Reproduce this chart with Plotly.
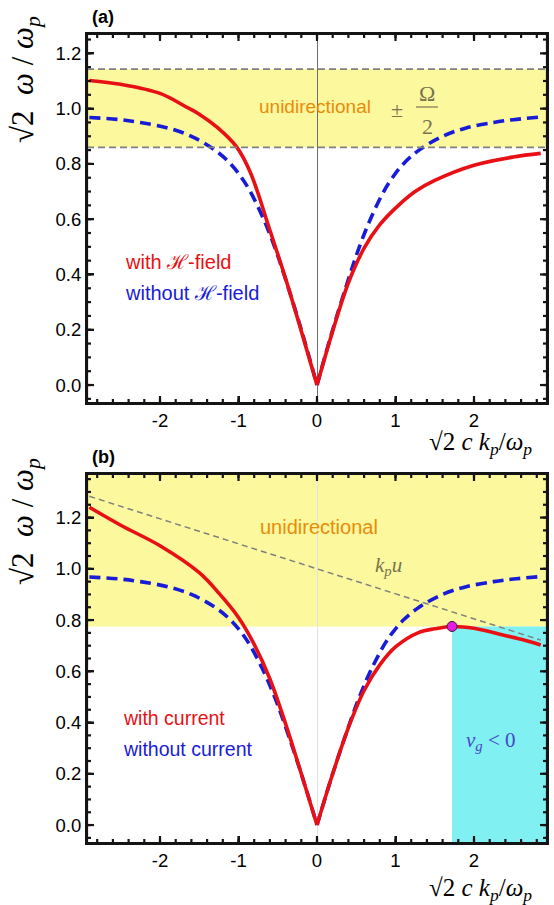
import plotly.graph_objects as go

# ---------------- data ----------------
# blue dashed curves (identical in both panels), left and right branches
blue_x_left = [-2.9, -2.5, -2.25, -1.9, -1.6, -1.3, -1.1, -0.96, -0.85, -0.68, -0.54, -0.42, -0.2, 0.0]
blue_y_left = [0.968, 0.960, 0.950, 0.930, 0.900, 0.850, 0.800, 0.750, 0.700, 0.600, 0.500, 0.400, 0.200, 0.0]
blue_x_right = [0.0, 0.2, 0.42, 0.54, 0.68, 0.85, 0.96, 1.1, 1.3, 1.6, 1.9, 2.25, 2.5, 2.82]
blue_y_right = [0.0, 0.200, 0.400, 0.500, 0.600, 0.700, 0.750, 0.800, 0.850, 0.900, 0.930, 0.950, 0.960, 0.969]

# panel (a) red: with H-field
red_a_x_left = [-2.9, -2.5, -2.0, -1.66, -1.5, -1.27, -1.02, -0.85, -0.6, -0.4, -0.2, 0.0]
red_a_y_left = [1.102, 1.088, 1.055, 1.005, 0.980, 0.932, 0.860, 0.770, 0.560, 0.385, 0.195, 0.0]
red_a_x_right = [0.0, 0.2, 0.4, 0.6, 0.8, 1.0, 1.25, 1.5, 2.0, 2.5, 2.85]
red_a_y_right = [0.0, 0.195, 0.370, 0.495, 0.580, 0.640, 0.700, 0.740, 0.795, 0.825, 0.838]

# panel (a) unidirectional band limits (1 -/+ Omega/2)
band_a = [0.86, 1.143]

# panel (b) red: with current
red_b_x_left = [-2.9, -2.5, -2.0, -1.5, -1.25, -1.0, -0.8, -0.6, -0.4, -0.2, 0.0]
red_b_y_left = [1.240, 1.170, 1.090, 0.985, 0.905, 0.810, 0.705, 0.570, 0.395, 0.200, 0.0]
red_b_x_right = [0.0, 0.2, 0.4, 0.6, 0.8, 1.0, 1.3, 1.5, 1.72, 2.0, 2.37, 2.6, 2.85]
red_b_y_right = [0.0, 0.200, 0.380, 0.525, 0.625, 0.695, 0.752, 0.766, 0.775, 0.768, 0.742, 0.725, 0.703]

# k_p u line (panel b)
kpu_x = [-2.9, 2.85]
kpu_y = [1.283, 0.722]

# maximum of red curve (panel b): start of v_g < 0 region
max_point_x = [1.72]
max_point_y = [0.775]

x_ticks = [-2, -1, 0, 1, 2]
x_tick_text = ["-2", "-1", "0", "1", "2"]
y_ticks = [0.0, 0.2, 0.4, 0.6, 0.8, 1.0, 1.2]
y_tick_text = ["0.0", "0.2", "0.4", "0.6", "0.8", "1.0", "1.2"]

# ---------------- styling ----------------
W, H = 554, 905
RED = "rgb(232,16,20)"
BLUE = "rgb(24,28,215)"
YELLOW = "rgb(252,248,158)"
CYAN = "rgb(128,240,242)"
GREY = "rgb(128,128,128)"
ORANGE = "rgb(232,140,10)"
OLIVE = "rgb(120,116,80)"
INK = "rgb(0,0,0)"
FRAME = "rgb(20,20,20)"
TICKFONT = dict(family="Liberation Sans, Arial", size=18.5, color=INK)
XR = [-2.93, 2.93]
YRA = [-0.065, 1.27]
YRB = [-0.07, 1.37]
LEFT, RIGHT = 87, 547          # plot frame, px
TOP_A, BOT_A = 34, 403
TOP_B, BOT_B = 474, 843
PW, PH = RIGHT - LEFT, BOT_A - TOP_A

x_minor = [round(-2.8 + 0.2 * i, 2) for i in range(29)]
y_minor = [round(-0.05 + 0.05 * i, 2) for i in range(29)]


def px(x, y):
    return x / W, 1 - y / H


fig = go.Figure()

# curves
for xa, ya in (("x", "y"), ("x2", "y2")):
    for bx, byv in ((blue_x_left, blue_y_left), (blue_x_right, blue_y_right)):
        fig.add_trace(go.Scatter(x=bx, y=byv, xaxis=xa, yaxis=ya, mode="lines",
                                 line=dict(color=BLUE, width=3.6, dash="11px,6px", shape="spline", smoothing=1.0),
                                 showlegend=False, hoverinfo="skip"))

fig.add_trace(go.Scatter(x=kpu_x, y=kpu_y, xaxis="x2", yaxis="y2", mode="lines",
                         line=dict(color=GREY, width=1.5, dash="6px,4px"), showlegend=False))

for rx, ry, xa, ya in ((red_a_x_left, red_a_y_left, "x", "y"), (red_a_x_right, red_a_y_right, "x", "y"),
                       (red_b_x_left, red_b_y_left, "x2", "y2"), (red_b_x_right, red_b_y_right, "x2", "y2")):
    fig.add_trace(go.Scatter(x=rx, y=ry, xaxis=xa, yaxis=ya, mode="lines",
                             line=dict(color=RED, width=3.6, shape="spline", smoothing=1.0),
                             showlegend=False, hoverinfo="skip"))

fig.add_trace(go.Scatter(x=max_point_x, y=max_point_y, xaxis="x2", yaxis="y2", mode="markers",
                         marker=dict(color="rgb(226,30,226)", size=10, line=dict(color="rgb(60,20,60)", width=1)),
                         showlegend=False))

# frame and inside ticks drawn as line traces (axis decoration, computed from axis ranges)
for xa, ya, yrng in (("x", "y", YRA), ("x2", "y2", YRB)):
    ux = (XR[1] - XR[0]) / PW      # data units per px
    uy = (yrng[1] - yrng[0]) / PH
    fx, fy = [], []
    fx += [XR[0], XR[1], XR[1], XR[0], XR[0], None]
    fy += [yrng[0], yrng[0], yrng[1], yrng[1], yrng[0], None]
    for vals, ln in ((x_ticks, 7), (x_minor, 4)):
        for v in vals:
            fx += [v, v, None, v, v, None]
            fy += [yrng[0], yrng[0] + ln * uy, None, yrng[1], yrng[1] - ln * uy, None]
    for vals, ln in ((y_ticks, 7), (y_minor, 4)):
        for v in vals:
            if v < yrng[0] or v > yrng[1]:
                continue
            fx += [XR[0], XR[0] + ln * ux, None, XR[1], XR[1] - ln * ux, None]
            fy += [v, v, None, v, v, None]
    fig.add_trace(go.Scatter(x=fx, y=fy, xaxis=xa, yaxis=ya, mode="lines", connectgaps=False,
                             line=dict(color=FRAME, width=2.2), cliponaxis=False,
                             showlegend=False, hoverinfo="skip"))

shapes = []
# panel a yellow band + dashed limits
shapes.append(dict(type="rect", xref="x", yref="y", x0=XR[0], x1=XR[1], y0=band_a[0], y1=band_a[1],
                   fillcolor=YELLOW, line=dict(width=0), layer="below"))
for yv in band_a:
    shapes.append(dict(type="line", xref="x", yref="y", x0=XR[0], x1=XR[1], y0=yv, y1=yv,
                       line=dict(color=GREY, width=1.8, dash="7px,4px"), layer="above"))
# panel b yellow above maximum, cyan for v_g < 0
shapes.append(dict(type="rect", xref="x2", yref="y2", x0=XR[0], x1=XR[1], y0=max_point_y[0], y1=YRB[1],
                   fillcolor=YELLOW, line=dict(width=0), layer="below"))
shapes.append(dict(type="rect", xref="x2", yref="y2", x0=max_point_x[0], x1=XR[1], y0=YRB[0], y1=max_point_y[0],
                   fillcolor=CYAN, line=dict(width=0), layer="below"))


def pline(x0, y0, x1, y1, w):
    a0, b0 = px(x0, y0)
    a1, b1 = px(x1, y1)
    shapes.append(dict(type="line", xref="paper", yref="paper", x0=a0, y0=b0, x1=a1, y1=b1,
                       line=dict(color=FRAME, width=w)))


# frame edges also as paper shapes
for top, bot in ((TOP_A, BOT_A), (TOP_B, BOT_B)):
    pline(LEFT, top, RIGHT, top, 2)
    pline(LEFT, bot, RIGHT, bot, 2)
    pline(LEFT, top, LEFT, bot, 2)
    pline(RIGHT, top, RIGHT, bot, 2)

annotations = []


def txt(x, y, text, size, color, family="Liberation Sans, Arial", xanchor="left", yanchor="middle", angle=0):
    xx, yy = px(x, y)
    annotations.append(dict(x=xx, y=yy, xref="paper", yref="paper", text=text, showarrow=False,
                            xanchor=xanchor, yanchor=yanchor, textangle=angle,
                            font=dict(family=family, size=size, color=color)))


def dtxt(x, y, xr, yr, text, size, color, family="Liberation Sans, Arial", xanchor="left"):
    annotations.append(dict(x=x, y=y, xref=xr, yref=yr, text=text, showarrow=False,
                            xanchor=xanchor, yanchor="middle",
                            font=dict(family=family, size=size, color=color)))


SERIF = "Liberation Serif, Times New Roman, serif"
YT = "√2  <i>ω</i> / <i>ω</i><sub><i>p</i></sub>"
XT = "√2 <i>c k</i><sub><i>p</i></sub>/<i>ω</i><sub><i>p</i></sub>"
# panel labels
txt(90, 17, "<b>(a)</b>", 18, INK)
txt(90, 457, "<b>(b)</b>", 18, INK)
# y titles
txt(25, 80, YT, 31, INK, SERIF, "center", "middle", -90)
txt(25, 522, YT, 31, INK, SERIF, "center", "middle", -90)
# x titles
txt(480, 444, XT, 25, INK, SERIF, "center", "middle")
txt(480, 889, XT, 25, INK, SERIF, "center", "middle")
# panel a texts
txt(257, 107, "unidirectional", 19, ORANGE)
txt(397, 109, "±", 22, OLIVE, SERIF, "center")
txt(427, 93, "Ω", 22, OLIVE, SERIF, "center")
txt(427, 126, "2", 22, OLIVE, SERIF, "center")
x0p, y0p = px(416, 107)
x1p, _ = px(438, 107)
shapes.append(dict(type="line", xref="paper", yref="paper", x0=x0p, x1=x1p, y0=y0p, y1=y0p,
                   line=dict(color=OLIVE, width=1.2)))
txt(123, 262, "with ℋ-field", 20, RED)
txt(123, 293, "without ℋ-field", 20, BLUE)
# panel b texts (data coordinates)
dtxt(-0.75, 1.165, "x2", "y2", "unidirectional", 20, ORANGE)
dtxt(0.71, 1.01, "x2", "y2", "<i>k</i><sub><i>p</i></sub><i>u</i>", 21, OLIVE, SERIF)
dtxt(2.22, 0.33, "x2", "y2", "<i>v</i><sub><i>g</i></sub> &lt; 0", 21, "rgb(70,70,200)", SERIF, "center")
txt(121, 718, "with current", 19.5, RED)
txt(121, 749, "without current", 19.5, BLUE)

axis_common = dict(showline=True, linecolor=FRAME, linewidth=2, mirror=True,
                   ticks="inside", ticklen=7, tickcolor=FRAME, tickwidth=1.5,
                   showgrid=False, tickfont=TICKFONT)
xaxis_common = dict(axis_common, range=XR, tickmode="array", tickvals=x_ticks, ticktext=x_tick_text,
                    domain=[LEFT / W, RIGHT / W])
yaxis_common = dict(axis_common, tickmode="array", tickvals=y_ticks, ticktext=y_tick_text)

fig.update_layout(
    width=W, height=H, margin=dict(l=0, r=0, t=0, b=0),
    paper_bgcolor="white", plot_bgcolor="white",
    xaxis=dict(xaxis_common, anchor="y", zeroline=True, zerolinecolor="rgb(110,110,110)", zerolinewidth=1.2),
    yaxis=dict(yaxis_common, anchor="x", range=YRA, zeroline=False, domain=[1 - BOT_A / H, 1 - TOP_A / H]),
    xaxis2=dict(xaxis_common, anchor="y2", zeroline=True, zerolinecolor="rgb(225,225,225)", zerolinewidth=1),
    yaxis2=dict(yaxis_common, anchor="x2", range=YRB, zeroline=False, domain=[1 - BOT_B / H, 1 - TOP_B / H]),
    shapes=shapes, annotations=annotations,
)

fig.write_html("out.html", config={"displayModeBar": False},
               post_script="document.body.style.margin='0px';")
